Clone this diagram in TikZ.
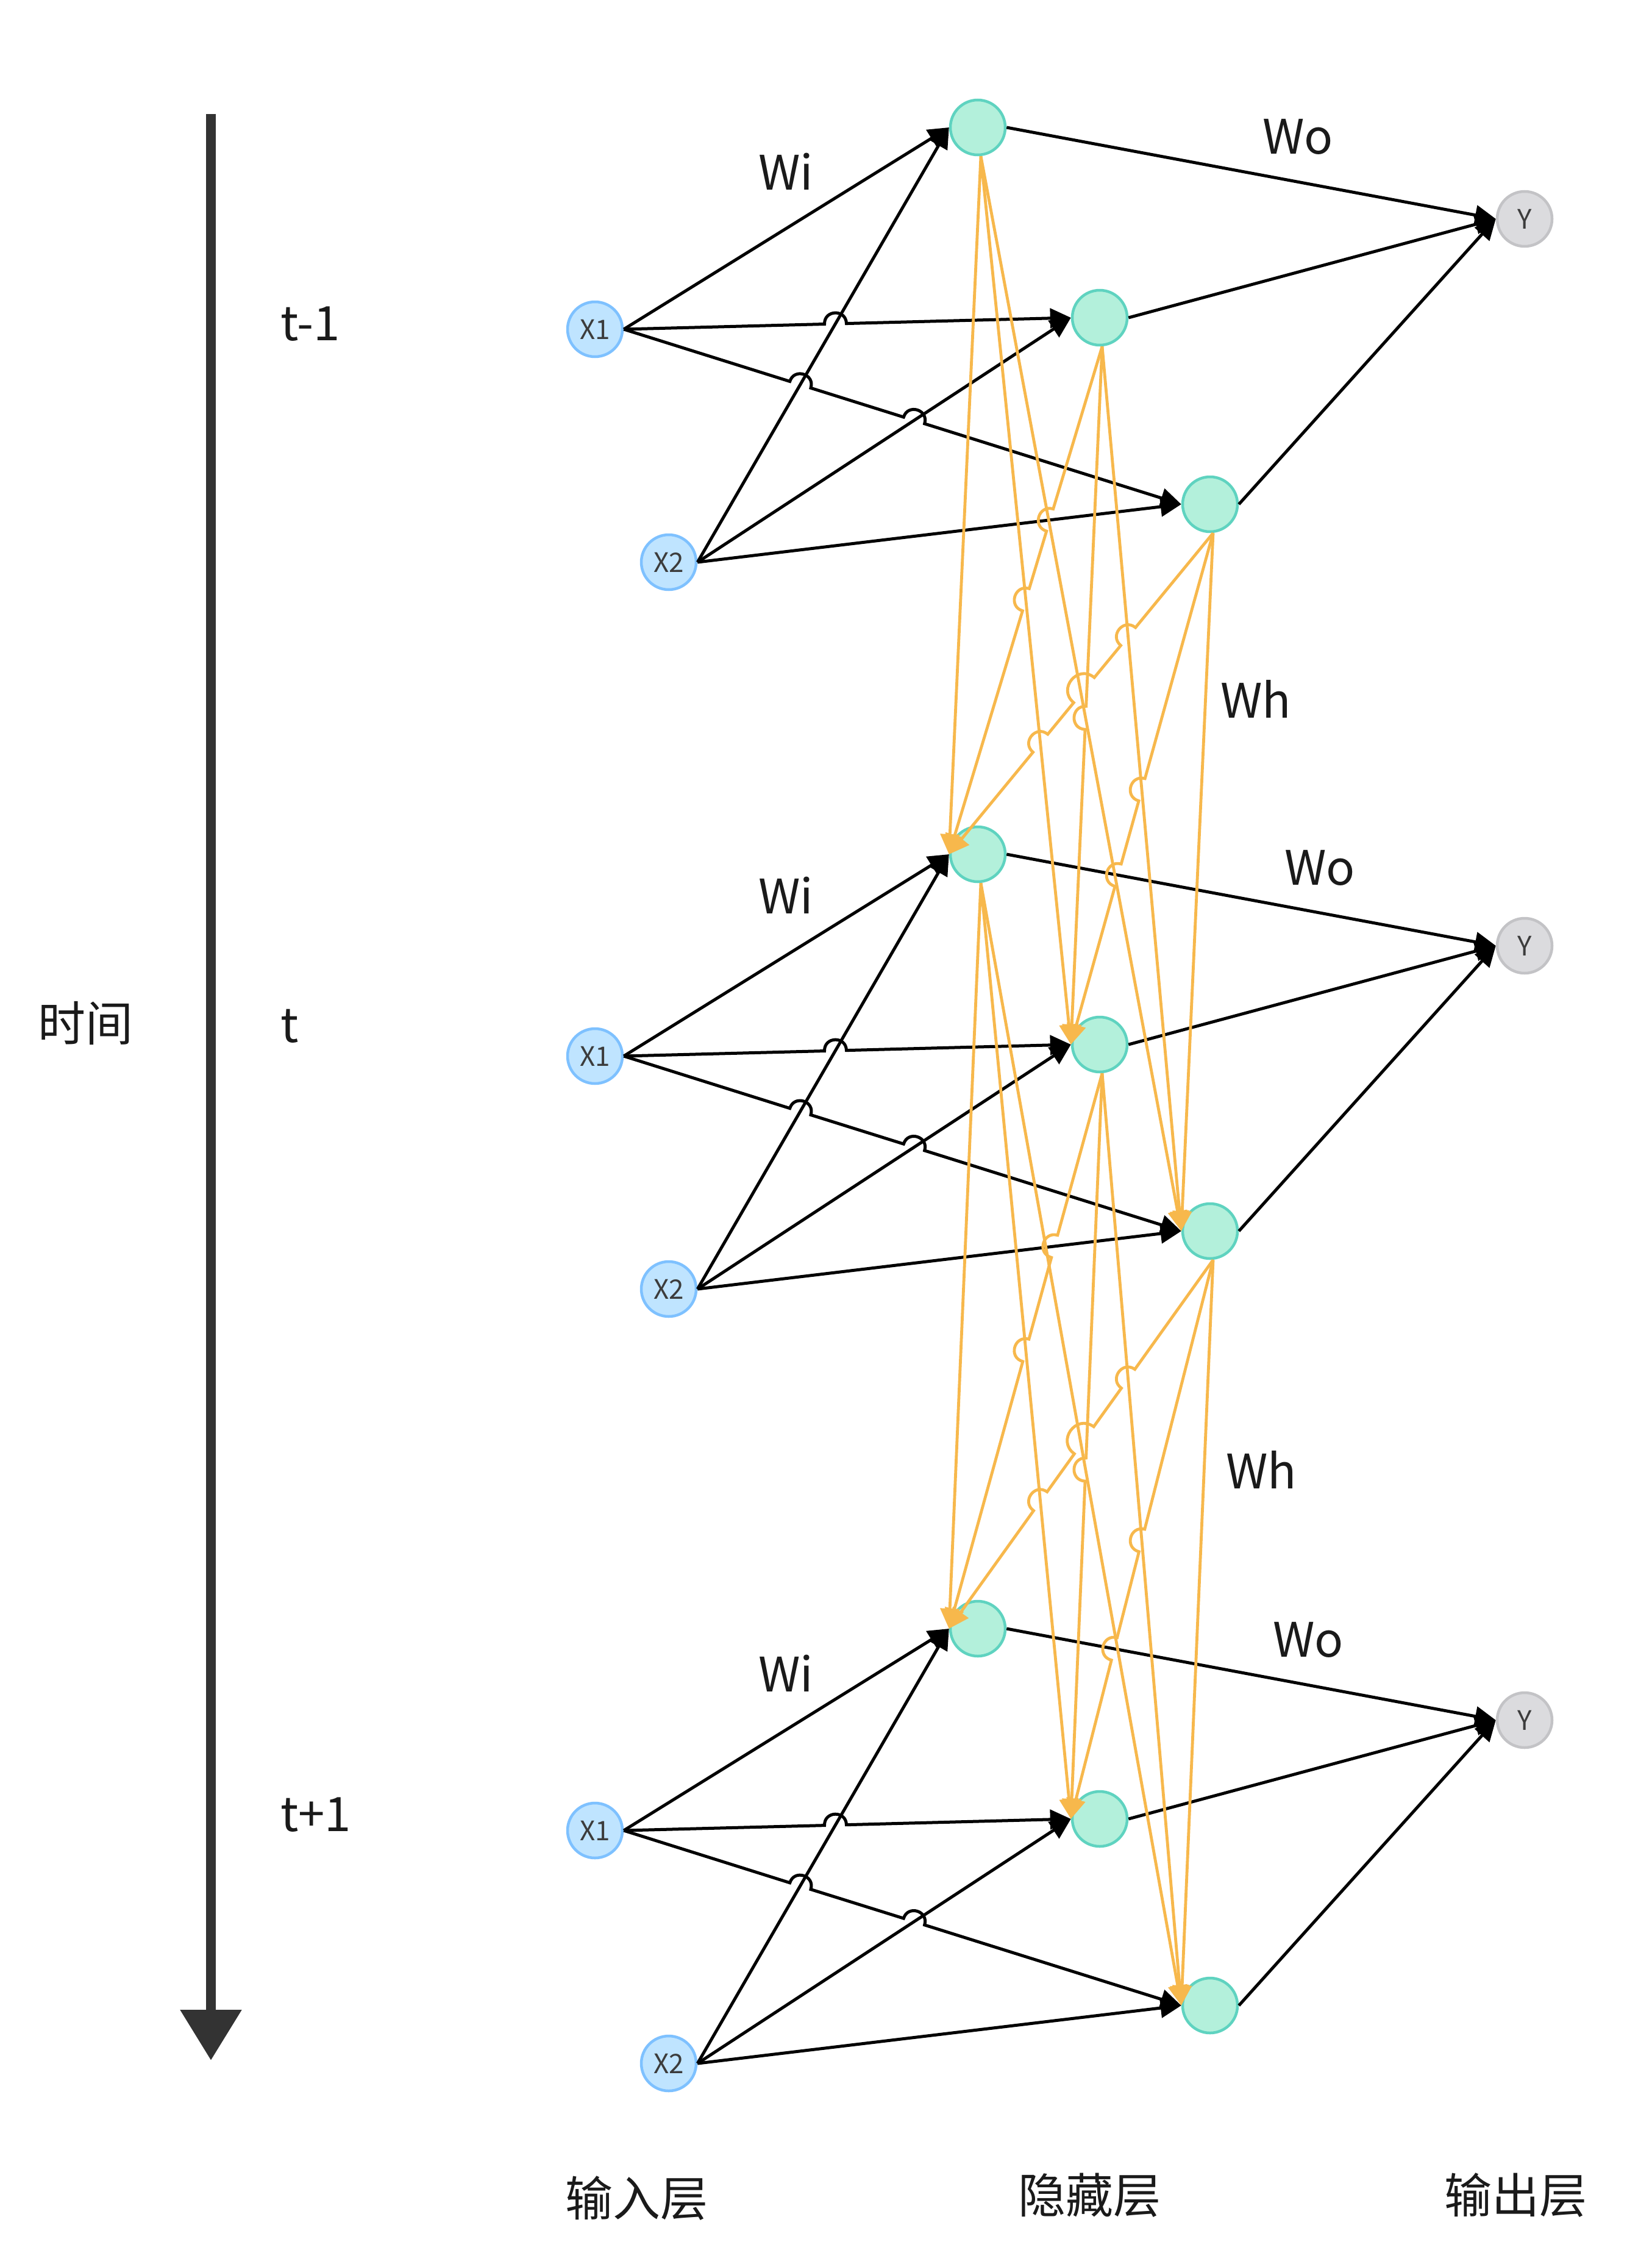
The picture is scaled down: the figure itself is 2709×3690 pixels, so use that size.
\documentclass[tikz,border=0pt]{standalone}
\usepackage{fontspec}
\setmainfont{Noto Sans CJK SC}
\usetikzlibrary{arrows.meta,calc,topaths}
\definecolor{xfill}{HTML}{BFE4FF}
\definecolor{xdraw}{HTML}{7EC1FF}
\definecolor{hfill}{HTML}{B3F0DB}
\definecolor{hdraw}{HTML}{5FD3C0}
\definecolor{yfill}{HTML}{DBDBDE}
\definecolor{ydraw}{HTML}{C3C3C6}
\definecolor{orng}{HTML}{F7B84C}
\definecolor{axiscol}{HTML}{333333}
\definecolor{txt}{HTML}{1A1A1A}
\definecolor{ntxt}{HTML}{3C3C3C}
\tikzset{
  neuron/.style={circle, minimum size=90pt, inner sep=0pt, line width=4.5pt,
    font=\fontsize{44}{50}\selectfont, text=ntxt},
  xnode/.style={neuron, fill=xfill, draw=xdraw},
  hnode/.style={neuron, fill=hfill, draw=hdraw},
  ynode/.style={neuron, fill=yfill, draw=ydraw},
  blk/.style={line width=5pt, color=black, -{Triangle[length=34pt,width=32pt]}},
  org/.style={line width=4.8pt, color=orng, -{Triangle[length=33pt,width=31pt]}},
  bhop/.style={bend left=90, looseness=1.7},
  ohop/.style={bend right=90, looseness=1.7},
  lbl/.style={font=\fontsize{78}{90}\selectfont, text=txt, inner sep=0pt},
}
\newcommand\mkblock[2]{%
  \node[xnode] (X1#1) at (976,#2) {X1};
  \node[xnode] (X2#1) at (1097,{#2+382}) {X2};
  \node[hnode] (h1#1) at (1604,{#2-331}) {};
  \node[hnode] (h2#1) at (1804,{#2-19}) {};
  \node[hnode] (h3#1) at (1985,{#2+287}) {};
  \node[ynode] (Y#1) at (2501,{#2-181}) {Y};
}
\newcommand\mkblack[1]{%
  \coordinate (A1) at (X1#1.east);
  \coordinate (A2) at (X2#1.east);
  \coordinate (W1) at (h1#1.west);
  \coordinate (W2) at (h2#1.west);
  \coordinate (W3) at (h3#1.west);
  \draw[blk] (A1) -- (W1);
  \draw[blk] (A2) -- (W1);
  \draw[blk] (A2) -- (W2);
  \draw[blk] (A2) -- (W3);
  \coordinate (Q1) at (intersection of A1--W2 and A2--W1);
  \draw[blk] (A1) -- ($(Q1)!18pt!(A1)$) to[bhop] ($(Q1)!18pt!(W2)$) -- (W2);
  \coordinate (Q2) at (intersection of A1--W3 and A2--W1);
  \coordinate (Q3) at (intersection of A1--W3 and A2--W2);
  \draw[blk] (A1) -- ($(Q2)!18pt!(A1)$) to[bhop] ($(Q2)!18pt!(W3)$)
     -- ($(Q3)!18pt!(A1)$) to[bhop] ($(Q3)!18pt!(W3)$) -- (W3);
  \draw[blk] (h1#1.east) -- (Y#1.west);
  \draw[blk] (h2#1.east) -- (Y#1.west);
  \draw[blk] (h3#1.east) -- (Y#1.west);
}
\newcommand\mkorange[2]{%
  \coordinate (S1) at ([xshift=5pt]h1#1.south);
  \coordinate (S2) at ([xshift=4pt]h2#1.south);
  \coordinate (S3) at ([xshift=5pt]h3#1.south);
  \coordinate (T1) at (h1#2.west);
  \coordinate (T2) at (h2#2.west);
  \coordinate (T3) at (h3#2.west);
  \coordinate (B1) at (X2#1.east);
  \coordinate (B2) at (h3#1.west);
  \coordinate (B3) at (h1#2.east);
  \coordinate (B4) at (Y#2.west);
  % from h1
  \draw[org] (S1) -- (T1);
  \draw[org] (S1) -- (T2);
  \draw[org] (S1) -- (T3);
  % from h2
  \coordinate (P1) at (intersection of S2--T1 and B1--B2);
  \coordinate (P2) at (intersection of S2--T1 and S1--T2);
  \draw[org] (S2) -- ($(P1)!19pt!(S2)$) to[ohop] ($(P1)!19pt!(T1)$)
     -- ($(P2)!19pt!(S2)$) to[ohop] ($(P2)!19pt!(T1)$) -- (T1);
  \coordinate (P3) at (intersection of S2--T2 and S1--T3);
  \draw[org] (S2) -- ($(P3)!19pt!(S2)$) to[ohop] ($(P3)!19pt!(T2)$) -- (T2);
  \draw[org] (S2) -- (T3);
  % from h3
  \coordinate (P4) at (intersection of S3--T1 and S2--T3);
  \coordinate (P5) at (intersection of S3--T1 and S2--T2);
  \coordinate (P6) at (intersection of S3--T1 and S1--T3);
  \coordinate (P7) at (intersection of S3--T1 and S1--T2);
  \draw[org] (S3) -- ($(P4)!19pt!(S3)$) to[ohop] ($(P4)!19pt!(T1)$)
     -- ($(P5)!19pt!(S3)$) to[ohop] ($(P6)!19pt!(T1)$)
     -- ($(P7)!19pt!(S3)$) to[ohop] ($(P7)!19pt!(T1)$) -- (T1);
  \coordinate (P8) at (intersection of S3--T2 and S2--T3);
  \coordinate (P9) at (intersection of S3--T2 and B3--B4);
  \draw[org] (S3) -- ($(P8)!19pt!(S3)$) to[ohop] ($(P8)!19pt!(T2)$)
     -- ($(P9)!19pt!(S3)$) to[ohop] ($(P9)!19pt!(T2)$) -- (T2);
  \draw[org] (S3) -- (T3);
}
\begin{document}
\begin{tikzpicture}[x=1pt,y=-1pt]
  \fill[white] (0,0) rectangle (2709,3690);
  \useasboundingbox (0,0) rectangle (2709,3690);
  % time axis
  \coordinate (axtop) at (346,187);
  \coordinate (axbot) at (346,3379);
  \draw[line width=16pt, color=axiscol, -{Triangle[length=83pt,width=97pt]}] (axtop) -- (axbot);
  \node[lbl, anchor=center] (time) at (140,1678) {时间};
  \node[lbl, anchor=base west] (tm1) at (460,558) {t-1};
  \node[lbl, anchor=base west] (tt) at (460,1709) {t};
  \node[lbl, anchor=base west] (tp1) at (460,3003) {t+1};
  % neurons
  \mkblock{a}{540}
  \mkblock{b}{1732}
  \mkblock{c}{3002}
  % black connections
  \mkblack{a}
  \mkblack{b}
  \mkblack{c}
  % recurrent connections
  \mkorange{a}{b}
  \mkorange{b}{c}
  % weight labels
  \node[lbl, anchor=base west] (wi1) at (1244,312) {Wi};
  \node[lbl, anchor=base west] (wi2) at (1244,1498) {Wi};
  \node[lbl, anchor=base west] (wi3) at (1244,2774) {Wi};
  \node[lbl, anchor=base west] (wo1) at (2071,253) {Wo};
  \node[lbl, anchor=base west] (wo2) at (2107,1451) {Wo};
  \node[lbl, anchor=base west] (wo3) at (2088,2717) {Wo};
  \node[lbl, anchor=base west] (wh1) at (2002,1177) {Wh};
  \node[lbl, anchor=base west] (wh2) at (2011,2441) {Wh};
  % layer labels
  \node[lbl, anchor=center] (lin) at (1044,3605) {输入层};
  \node[lbl, anchor=center] (lhid) at (1787,3600) {隐藏层};
  \node[lbl, anchor=center] (lout) at (2486,3600) {输出层};
\end{tikzpicture}
\end{document}
